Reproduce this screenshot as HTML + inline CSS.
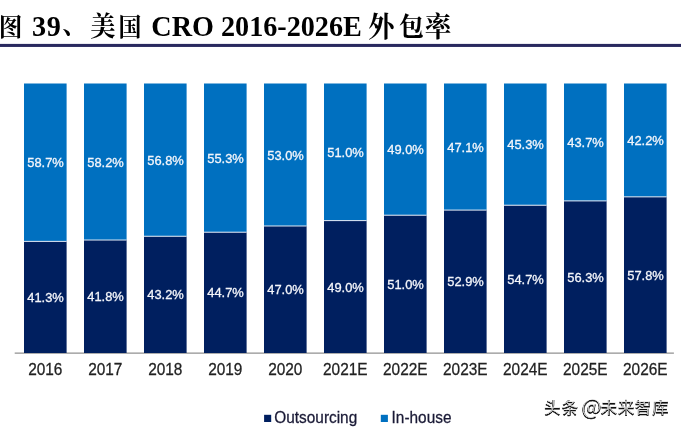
<!DOCTYPE html>
<html lang="zh-CN">
<head>
<meta charset="utf-8">
<title>图 39、美国 CRO 2016-2026E 外包率</title>
<style>
html,body{margin:0;padding:0;background:#fff;}
body{width:681px;height:430px;overflow:hidden;position:relative;}
svg{position:absolute;left:0;top:0;display:block;}
.t{font-family:"Liberation Serif","Noto Serif CJK SC",serif;font-weight:bold;font-size:28.2px;fill:#000;}
.c{font-family:"Noto Serif CJK SC","Liberation Serif",serif;font-weight:700;}
.v{font-family:"Liberation Sans",sans-serif;font-size:12.9px;fill:#f4f6fb;text-anchor:middle;stroke:#f4f6fb;stroke-width:0.3px;}
.y{font-family:"Liberation Sans",sans-serif;font-size:15.4px;fill:#222;text-anchor:middle;stroke:#222;stroke-width:0.25px;}
.l{font-family:"Liberation Sans",sans-serif;font-size:15.4px;fill:#1a1a36;stroke:#1a1a36;stroke-width:0.25px;}
.w{font-family:"Noto Sans CJK SC","Liberation Sans",sans-serif;font-size:16.2px;fill:#000;stroke:#000;stroke-width:0.55px;}
</style>
</head>
<body>
<svg width="681" height="430" viewBox="0 0 681 430">
<defs>
<filter id="wm" x="-5%" y="-30%" width="110%" height="160%" color-interpolation-filters="sRGB">
<feGaussianBlur in="SourceAlpha" stdDeviation="0.3" result="db"/>
<feOffset in="db" dx="0.3" dy="0.4" result="sh"/>
<feFlood flood-color="#101010" result="fd"/>
<feComposite in="fd" in2="sh" operator="in" result="dark"/>
<feGaussianBlur in="SourceAlpha" stdDeviation="0.55" result="wb"/>
<feComponentTransfer in="wb" result="we"><feFuncA type="linear" slope="5" intercept="-3.6"/></feComponentTransfer>
<feOffset in="we" dx="-0.3" dy="-0.7" result="wo"/>
<feFlood flood-color="#ffffff" flood-opacity="0.7" result="fw"/>
<feComposite in="fw" in2="wo" operator="in" result="white"/>
<feMerge><feMergeNode in="dark"/><feMergeNode in="white"/></feMerge>
</filter>
</defs>
<rect x="0" y="0" width="681" height="430" fill="#fff"/>

<text class="t" transform="scale(1 1.08)"><tspan class="c" x="-1.15" y="33.36" font-size="23.66">图</tspan><tspan x="24 31.9 46.7" y="33.70"> 39</tspan><tspan class="c" x="62.23" y="31.72" font-size="25.24">、</tspan><tspan class="c" x="90.22" y="33.43" font-size="25.31">美</tspan><tspan class="c" x="118.60" y="33.35" font-size="22.89">国</tspan><tspan x="144.2 151.3" y="33.70"> CRO 2016-2026E</tspan><tspan x="361" y="33.70"> </tspan><tspan class="c" x="368.35" y="34.58" font-size="26.13">外</tspan><tspan class="c" x="399.11" y="33.04" font-size="24.73">包</tspan><tspan class="c" x="424.88" y="34.58" font-size="26.63">率</tspan></text>
<rect x="0" y="43.9" width="681" height="3.05" fill="#29295f"/>
<rect x="14.7" y="352.4" width="659.2" height="1.5" fill="#a4a4a4"/>
<rect x="24.00" y="83.50" width="42.6" height="157.87" fill="#0070c0"/>
<rect x="24.00" y="241.37" width="42.6" height="111.63" fill="#001f5f"/>
<rect x="24.00" y="240.87" width="42.6" height="1" fill="#dfe9f5"/>
<text class="v" transform="translate(45.50 167.24) scale(1.0000 1.0500)">58.7%</text>
<text class="v" transform="translate(45.50 301.99) scale(1.0000 1.0500)">41.3%</text>
<text class="y" transform="translate(45.30 375.20) scale(1.0000 1.0400)">2016</text>
<rect x="84.00" y="83.50" width="42.6" height="156.52" fill="#0070c0"/>
<rect x="84.00" y="240.02" width="42.6" height="112.98" fill="#001f5f"/>
<rect x="84.00" y="239.52" width="42.6" height="1" fill="#dfe9f5"/>
<text class="v" transform="translate(105.50 166.56) scale(1.0000 1.0500)">58.2%</text>
<text class="v" transform="translate(105.50 301.31) scale(1.0000 1.0500)">41.8%</text>
<text class="y" transform="translate(105.30 375.20) scale(1.0000 1.0400)">2017</text>
<rect x="144.00" y="83.50" width="42.6" height="152.75" fill="#0070c0"/>
<rect x="144.00" y="236.25" width="42.6" height="116.75" fill="#001f5f"/>
<rect x="144.00" y="235.75" width="42.6" height="1" fill="#dfe9f5"/>
<text class="v" transform="translate(165.50 164.67) scale(1.0000 1.0500)">56.8%</text>
<text class="v" transform="translate(165.50 299.42) scale(1.0000 1.0500)">43.2%</text>
<text class="y" transform="translate(165.30 375.20) scale(1.0000 1.0400)">2018</text>
<rect x="204.00" y="83.50" width="42.6" height="148.70" fill="#0070c0"/>
<rect x="204.00" y="232.20" width="42.6" height="120.80" fill="#001f5f"/>
<rect x="204.00" y="231.70" width="42.6" height="1" fill="#dfe9f5"/>
<text class="v" transform="translate(225.50 162.65) scale(1.0000 1.0500)">55.3%</text>
<text class="v" transform="translate(225.50 297.40) scale(1.0000 1.0500)">44.7%</text>
<text class="y" transform="translate(225.30 375.20) scale(1.0000 1.0400)">2019</text>
<rect x="264.00" y="83.50" width="42.6" height="142.49" fill="#0070c0"/>
<rect x="264.00" y="225.99" width="42.6" height="127.01" fill="#001f5f"/>
<rect x="264.00" y="225.49" width="42.6" height="1" fill="#dfe9f5"/>
<text class="v" transform="translate(285.50 159.55) scale(1.0000 1.0500)">53.0%</text>
<text class="v" transform="translate(285.50 294.30) scale(1.0000 1.0500)">47.0%</text>
<text class="y" transform="translate(285.30 375.20) scale(1.0000 1.0400)">2020</text>
<rect x="324.00" y="83.50" width="42.6" height="137.10" fill="#0070c0"/>
<rect x="324.00" y="220.60" width="42.6" height="132.40" fill="#001f5f"/>
<rect x="324.00" y="220.10" width="42.6" height="1" fill="#dfe9f5"/>
<text class="v" transform="translate(345.50 156.85) scale(1.0000 1.0500)">51.0%</text>
<text class="v" transform="translate(345.50 291.60) scale(1.0000 1.0500)">49.0%</text>
<text class="y" transform="translate(345.30 375.20) scale(1.0000 1.0400)">2021E</text>
<rect x="384.00" y="83.50" width="42.6" height="131.70" fill="#0070c0"/>
<rect x="384.00" y="215.20" width="42.6" height="137.80" fill="#001f5f"/>
<rect x="384.00" y="214.70" width="42.6" height="1" fill="#dfe9f5"/>
<text class="v" transform="translate(405.50 154.15) scale(1.0000 1.0500)">49.0%</text>
<text class="v" transform="translate(405.50 288.90) scale(1.0000 1.0500)">51.0%</text>
<text class="y" transform="translate(405.30 375.20) scale(1.0000 1.0400)">2022E</text>
<rect x="444.00" y="83.50" width="42.6" height="126.58" fill="#0070c0"/>
<rect x="444.00" y="210.08" width="42.6" height="142.92" fill="#001f5f"/>
<rect x="444.00" y="209.58" width="42.6" height="1" fill="#dfe9f5"/>
<text class="v" transform="translate(465.50 151.59) scale(1.0000 1.0500)">47.1%</text>
<text class="v" transform="translate(465.50 286.34) scale(1.0000 1.0500)">52.9%</text>
<text class="y" transform="translate(465.30 375.20) scale(1.0000 1.0400)">2023E</text>
<rect x="504.00" y="83.50" width="42.6" height="121.72" fill="#0070c0"/>
<rect x="504.00" y="205.22" width="42.6" height="147.78" fill="#001f5f"/>
<rect x="504.00" y="204.72" width="42.6" height="1" fill="#dfe9f5"/>
<text class="v" transform="translate(525.50 149.16) scale(1.0000 1.0500)">45.3%</text>
<text class="v" transform="translate(525.50 283.91) scale(1.0000 1.0500)">54.7%</text>
<text class="y" transform="translate(525.30 375.20) scale(1.0000 1.0400)">2024E</text>
<rect x="564.00" y="83.50" width="42.6" height="117.40" fill="#0070c0"/>
<rect x="564.00" y="200.90" width="42.6" height="152.10" fill="#001f5f"/>
<rect x="564.00" y="200.40" width="42.6" height="1" fill="#dfe9f5"/>
<text class="v" transform="translate(585.50 147.00) scale(1.0000 1.0500)">43.7%</text>
<text class="v" transform="translate(585.50 281.75) scale(1.0000 1.0500)">56.3%</text>
<text class="y" transform="translate(585.30 375.20) scale(1.0000 1.0400)">2025E</text>
<rect x="624.00" y="83.50" width="42.6" height="113.36" fill="#0070c0"/>
<rect x="624.00" y="196.86" width="42.6" height="156.14" fill="#001f5f"/>
<rect x="624.00" y="196.36" width="42.6" height="1" fill="#dfe9f5"/>
<text class="v" transform="translate(645.50 144.98) scale(1.0000 1.0500)">42.2%</text>
<text class="v" transform="translate(645.50 279.73) scale(1.0000 1.0500)">57.8%</text>
<text class="y" transform="translate(645.30 375.20) scale(1.0000 1.0400)">2026E</text>
<rect x="264.1" y="414.8" width="7.1" height="7.2" fill="#001f5f"/>
<text class="l" transform="translate(274.30 422.80) scale(1.0000 1.0500)">Outsourcing</text>
<rect x="380.8" y="414.8" width="7.1" height="7.2" fill="#0070c0"/>
<text class="l" transform="translate(391.60 422.80) scale(1.0000 1.0500)">In-house</text>
<text class="w" filter="url(#wm)"><tspan x="544.3" y="413.8" letter-spacing="1.2">头条 </tspan><tspan x="581.6" y="415.40000000000003" font-size="21.6" textLength="20" lengthAdjust="spacingAndGlyphs">@</tspan><tspan x="600.8" y="413.8" letter-spacing="0.95">未来智库</tspan></text>
</svg>
</body>
</html>
